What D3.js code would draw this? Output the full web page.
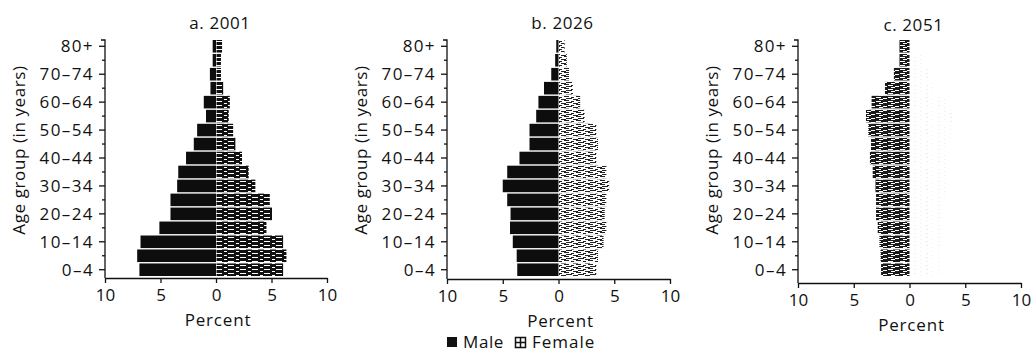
<!DOCTYPE html>
<html>
<head>
<meta charset="utf-8">
<script src="https://cdn.jsdelivr.net/npm/d3@7"></script>
<style>
  body { margin: 0; background: #fff; }
  svg { display: block; }
  text { font-family: 'Open Sans', 'Noto Sans', sans-serif; fill: #111; }
  .axis path, .axis line { stroke: #111; stroke-width: 1.3; }
</style>
</head>
<body>
<div id="chart"></div>
<script>
// age groups, bottom to top
const ageGroups = ['0–4', '5–9', '10–14', '15–19', '20–24', '25–29', '30–34', '35–39',
  '40–44', '45–49', '50–54', '55–59', '60–64', '65–69', '70–74', '75–79', '80+'];
const labelledGroups = ['0–4', '10–14', '20–24', '30–34', '40–44', '50–54', '60–64', '70–74', '80+'];
const xTicks = [-10, -5, 0, 5, 10];

// percent of population
const male2001 = [6.9, 7.1, 6.8, 5.1, 4.1, 4.1, 3.5, 3.4, 2.7, 2.0, 1.7, 0.9, 1.1, 0.5, 0.55, 0.3, 0.3];
const female2001 = [6.0, 6.3, 6.0, 4.5, 5.0, 4.8, 3.5, 2.9, 2.3, 1.7, 1.5, 1.1, 1.2, 0.6, 0.4, 0.4, 0.5];
const male2026 = [3.7, 3.75, 4.1, 4.35, 4.3, 4.6, 5.0, 4.6, 3.5, 2.6, 2.6, 2.0, 1.8, 1.3, 0.65, 0.3, 0.2];
const female2026 = [3.35, 3.5, 4.0, 4.25, 4.1, 4.25, 4.5, 4.25, 3.35, 3.5, 3.35, 2.3, 1.9, 1.25, 0.9, 0.7, 0.5];
const male2051 = [2.55, 2.6, 2.7, 2.85, 3.0, 3.0, 3.05, 3.3, 3.55, 3.45, 3.7, 3.9, 3.4, 2.2, 1.4, 0.9, 0.9];
const female2051 = [2.6, 2.6, 2.7, 2.8, 3.0, 3.1, 3.2, 3.3, 3.5, 3.6, 3.7, 3.8, 3.3, 2.4, 1.6, 1.1, 0.4];

const panels = [
  {title: 'a. 2001', male: male2001, female: female2001, x0: 105, x1: 327, axisY: 278, titleY: 29,
   maleFill: '#0d0d0d', femaleFill: 'url(#femA)', tickColor: '#111'},
  {title: 'b. 2026', male: male2026, female: female2026, x0: 447, x1: 670, axisY: 279, titleY: 29,
   maleFill: '#0d0d0d', femaleFill: 'url(#femB)', tickColor: '#111'},
  {title: 'c. 2051', male: male2051, female: female2051, x0: 798, x1: 1021, axisY: 283, titleY: 31,
   maleFill: 'url(#maleC)', femaleFill: 'url(#femC)', tickColor: '#333'}
];

const width = 1032, height = 357;
const svg = d3.select('#chart').append('svg').attr('width', width).attr('height', height);

// textures for the scanned look
const defs = svg.append('defs');
function stripes(id, bg, fg, rows) {
  const p = defs.append('pattern').attr('id', id).attr('patternUnits', 'userSpaceOnUse')
    .attr('width', 12).attr('height', 4);
  p.append('rect').attr('width', 12).attr('height', 4).attr('fill', bg);
  rows.forEach(r => p.append('rect').attr('x', r[0]).attr('y', r[1]).attr('width', r[2]).attr('height', 1).attr('fill', fg));
}
stripes('femA', '#111', '#fff', [[0, 1, 6], [8, 3, 3]]);
stripes('femB', '#fff', '#222', [[0, 0, 5], [7, 1, 3], [2, 2, 6], [0, 3, 2], [9, 3, 3]]);
stripes('maleC', '#1a1a1a', '#fff', [[0, 1, 5], [7, 2, 4], [3, 3, 4]]);
stripes('femC', '#fff', '#eee', [[2, 1, 2], [8, 3, 1]]);

panels.forEach(p => {
  const x = d3.scaleLinear().domain([-10, 10]).range([p.x0, p.x1]);
  const y = d3.scaleBand().domain(ageGroups).range([276, 40]).paddingInner(0.1);
  const g = svg.append('g');

  // male bars (left)
  g.selectAll('rect.male').data(p.male).enter().append('rect')
    .attr('class', 'male')
    .attr('x', d => x(-d))
    .attr('y', (d, i) => y(ageGroups[i]))
    .attr('width', d => x(0) - x(-d))
    .attr('height', y.bandwidth())
    .attr('fill', p.maleFill);

  // female bars (right)
  g.selectAll('rect.female').data(p.female).enter().append('rect')
    .attr('class', 'female')
    .attr('x', x(0) + 0.5)
    .attr('y', (d, i) => y(ageGroups[i]))
    .attr('width', d => x(d) - x(0))
    .attr('height', y.bandwidth())
    .attr('fill', p.femaleFill);

  // y axis
  const yAxis = d3.axisLeft(y).tickSize(4).tickPadding(7)
    .tickFormat(d => labelledGroups.includes(d) ? d : '');
  const ya = g.append('g').attr('class', 'axis')
    .attr('transform', 'translate(' + p.x0 + ',0)')
    .call(yAxis);
  ya.select('.domain').attr('d', 'M-4,40H0V' + p.axisY);
  ya.selectAll('text').style('font-size', '17px').style('letter-spacing', '1.4px')
    .attr('fill', p.tickColor).attr('dy', '0.35em');
  ya.selectAll('.tick line').attr('x2', d => labelledGroups.includes(d) ? -6 : -3);

  // x axis
  const xAxis = d3.axisBottom(x).tickValues(xTicks).tickSize(5).tickSizeOuter(0).tickPadding(6)
    .tickFormat(d => Math.abs(d));
  const xa = g.append('g').attr('class', 'axis')
    .attr('transform', 'translate(0,' + p.axisY + ')')
    .call(xAxis);
  xa.selectAll('text').style('font-size', '17px').attr('fill', p.tickColor);

  // titles
  g.append('text').attr('x', x(0) + 4).attr('y', p.titleY)
    .attr('text-anchor', 'middle').style('font-size', '17px').style('letter-spacing', '0.6px').text(p.title);
  g.append('text').attr('x', x(0) + 2).attr('y', p.axisY + 48)
    .attr('text-anchor', 'middle').style('font-size', '17px').style('letter-spacing', '0.8px')
    .attr('fill', p.tickColor).text('Percent');
  g.append('text')
    .attr('transform', 'translate(' + (p.x0 - 80) + ',' + 150 + ') rotate(-90)')
    .attr('text-anchor', 'middle').style('font-size', '17px').style('letter-spacing', '0.6px')
    .text('Age group (in years)');
});

// legend
const leg = svg.append('g').attr('transform', 'translate(447,342)');
leg.append('rect').attr('x', 0).attr('y', -5).attr('width', 10).attr('height', 10).attr('fill', '#111');
leg.append('text').attr('x', 16).attr('y', 6).style('font-size', '17px').style('letter-spacing', '0.6px').text('Male');
leg.append('rect').attr('x', 68.5).attr('y', -4.5).attr('width', 10).attr('height', 10)
  .attr('fill', '#fff').attr('stroke', '#111').attr('stroke-width', 1.5);
leg.append('path').attr('d', 'M68.5,0.5H78.5M73.5,-4.5V5.5').attr('stroke', '#111').attr('stroke-width', 1.5);
leg.append('text').attr('x', 85).attr('y', 6).style('font-size', '17px').style('letter-spacing', '1px').text('Female');
</script>
</body>
</html>
